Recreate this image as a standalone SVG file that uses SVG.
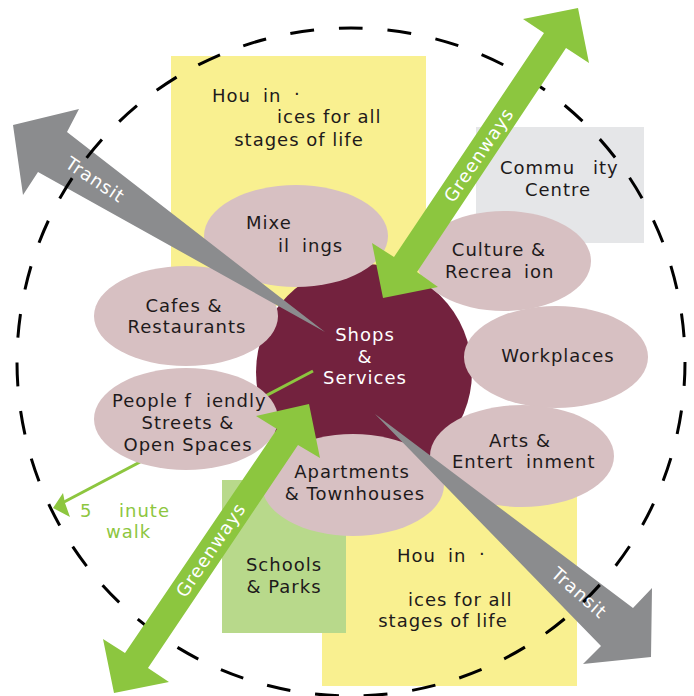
<svg xmlns="http://www.w3.org/2000/svg" width="694" height="696" viewBox="0 0 694 696">
<style>
.ell{fill:#d7c0c2}
.tx{font-family:"DejaVu Sans",sans-serif;font-size:18px;letter-spacing:1px;fill:#1e1a1b}
.wt{font-family:"DejaVu Sans",sans-serif;font-size:18px;letter-spacing:1px;fill:#ffffff}
.gt{font-family:"DejaVu Sans",sans-serif;font-size:18px;letter-spacing:1px;fill:#8dc63f}
.c{text-anchor:middle}
.transit{fill:#8b8c8e}
.green{fill:#8cc63f}
.ring{fill:none;stroke:#000;stroke-width:3;stroke-dasharray:24 25}
</style>
<rect width="694" height="696" fill="#ffffff"/>
<g id="housing-top">
<rect x="171" y="56" width="255" height="250" fill="#f9f090"/>
</g>
<g id="housing-bottom">
<rect x="322" y="470" width="255" height="216" fill="#f9f090"/>
</g>
<g id="community-centre">
<rect x="476" y="127" width="168" height="116" fill="#e5e6e8"/>
</g>
<g id="schools-parks">
<rect x="222" y="480" width="124" height="153" fill="#b8d98b"/>
</g>
<g id="shops-services">
<circle cx="364" cy="372" r="108" fill="#73223e"/>
</g>
<g id="connectors">
<line x1="313" y1="371" x2="64" y2="502" stroke="#8dc63f" stroke-width="3"/>
<polygon points="53,508 63,493 65,503 70,517" fill="#8dc63f"/>
</g>
<g id="mixed-buildings"><ellipse class="ell" cx="296" cy="236" rx="92" ry="51"/></g>
<g id="cafes"><ellipse class="ell" cx="186" cy="316" rx="92" ry="50"/></g>
<g id="people-friendly"><ellipse class="ell" cx="186" cy="419" rx="92" ry="51"/></g>
<g id="culture"><ellipse class="ell" cx="504" cy="261" rx="87" ry="50"/></g>
<g id="workplaces"><ellipse class="ell" cx="556" cy="357" rx="92" ry="51"/></g>
<g id="arts"><ellipse class="ell" cx="522" cy="456" rx="92" ry="51"/></g>
<g id="apartments"><ellipse class="ell" cx="353" cy="485" rx="91" ry="51"/></g>
<g id="transit-arrows">
<polygon class="transit" points="325,332 67,132 79,109 13,125 23,195 38,172"/>
<polygon class="transit" points="375,414 633,608 652,588 651,657 583,664 601,646"/>
</g>
<g id="walk-radius">
<circle class="ring" cx="351" cy="362" r="334" pathLength="2107"/>
</g>
<g id="greenway-arrows">
<polygon class="green" points="578,8 589,63 566,48 417,272 438,287 383,298 372,243 394,257 544,33 523,19"/>
<polygon class="green" points="309,404 320,458 298,445 148,668 169,682 114,693 103,639 125,653 277,429 256,416"/>
</g>
<g id="labels">
<text class="tx"><tspan x="212" y="102">Hou</tspan><tspan x="263" y="102">in</tspan><tspan x="294" y="100">·</tspan></text>
<text class="tx" x="277" y="123">ices for all</text>
<text class="tx c" x="299" y="146">stages of life</text>

<text class="tx"><tspan x="397" y="562">Hou</tspan><tspan x="448" y="562">in</tspan><tspan x="479" y="560">·</tspan></text>
<text class="tx" x="408" y="606">ices for all</text>
<text class="tx c" x="443" y="627">stages of life</text>

<text class="tx"><tspan x="246" y="229">Mixe</tspan><tspan x="278" y="252">il</tspan><tspan x="302" y="252">ings</tspan></text>

<text class="tx c"><tspan x="184" y="312">Cafes &amp;</tspan><tspan x="187" y="333">Restaurants</tspan></text>

<text class="tx"><tspan x="112" y="407">People f</tspan><tspan x="206" y="407">iendly</tspan></text>
<text class="tx c"><tspan x="188" y="429">Streets &amp;</tspan><tspan x="188" y="451">Open Spaces</tspan></text>

<text class="wt c"><tspan x="365" y="341">Shops</tspan><tspan x="365" y="363">&amp;</tspan><tspan x="365" y="384">Services</tspan></text>

<text class="tx c" x="499" y="256">Culture &amp;</text>
<text class="tx"><tspan x="445" y="278">Recrea</tspan><tspan x="524" y="278">ion</tspan></text>

<text class="tx"><tspan x="500" y="174">Commu</tspan><tspan x="593" y="174">ity</tspan></text>
<text class="tx c" x="558" y="196">Centre</text>

<text class="tx c" x="558" y="362">Workplaces</text>

<text class="tx c" x="520" y="447">Arts &amp;</text>
<text class="tx"><tspan x="452" y="468">Entert</tspan><tspan x="526" y="468">inment</tspan></text>

<text class="tx c"><tspan x="352" y="478">Apartments</tspan><tspan x="355" y="500">&amp; Townhouses</tspan></text>

<text class="tx c"><tspan x="284" y="571">Schools</tspan><tspan x="284" y="593">&amp; Parks</tspan></text>

<text class="gt"><tspan x="80" y="517">5</tspan><tspan x="119" y="517">inute</tspan><tspan x="106" y="538">walk</tspan></text>

<text class="wt c" transform="translate(95,180) rotate(33.6)" y="6">Transit</text>
<text class="wt c" transform="translate(579,593) rotate(41.4)" y="6">Transit</text>
<text class="wt c" transform="translate(479,155) rotate(-56)" y="6">Greenways</text>
<text class="wt c" transform="translate(211,550) rotate(-56)" y="6">Greenways</text>
</g>
</svg>
